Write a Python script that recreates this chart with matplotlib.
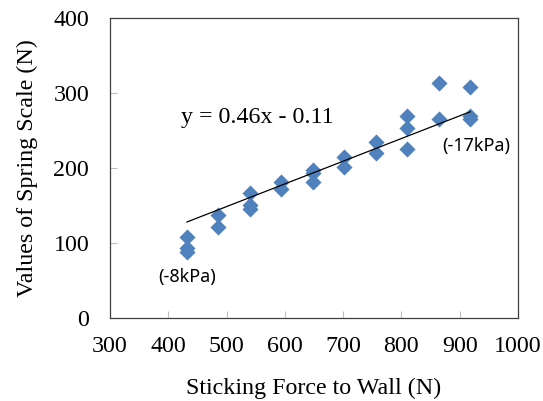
import numpy as np
import matplotlib
matplotlib.use("Agg")
import matplotlib.pyplot as plt

# Sticking force to wall (N) and spring scale readings (N)
force = [432, 432, 432,
         486, 486,
         540, 540, 540,
         594, 594,
         648, 648, 648,
         702, 702,
         756, 756,
         810, 810, 810,
         864, 864,
         918, 918, 918]
spring = [108, 93, 88,
          137, 122,
          167, 151, 146,
          182, 172,
          197, 193, 181,
          215, 201,
          235, 220,
          270, 254, 226,
          313, 265,
          308, 270, 265]

# trend line as drawn in the reference
trend_x = [432, 918]
trend_y = [128, 275]

x_ticks = [300, 400, 500, 600, 700, 800, 900, 1000]
y_ticks = [0, 100, 200, 300, 400]
equation = "y = 0.46x - 0.11"
low_label = "(-8kPa)"
high_label = "(-17kPa)"

serif = ["Liberation Serif", "DejaVu Serif"]
sans = ["Noto Sans", "DejaVu Sans"]
fs = 17.3

fig = plt.figure(figsize=(5.43, 4.01), dpi=100)
ax = fig.add_axes([110/543, 83/401, 408/543, 300/401])

ax.scatter(force, spring, marker="D", s=8.2**2, color="#4F81BD", linewidths=0, zorder=3)
ax.plot(trend_x, trend_y, color="black", lw=0.9, zorder=4)

ax.set_xlim(300, 1000)
ax.set_ylim(0, 400)
ax.set_xticks(x_ticks)
ax.set_yticks(y_ticks)
ax.tick_params(axis="both", direction="in", length=5, width=0.8, color="#BFBFBF",
               labelsize=fs, labelcolor="black")
ax.tick_params(axis="x", pad=13)
ax.tick_params(axis="y", pad=15)
for lab in ax.get_xticklabels() + ax.get_yticklabels():
    lab.set_family(serif)
for sp in ax.spines.values():
    sp.set_color("#404040")
    sp.set_linewidth(0.9)

ax.set_xlabel("Sticking Force to Wall (N)", family=serif, fontsize=fs, labelpad=15)
ax.set_ylabel("Values of Spring Scale (N)", family=serif, fontsize=fs, labelpad=11)

ax.text(0.174, 0.67, equation, transform=ax.transAxes, family=serif, fontsize=fs,
        ha="left", va="center")
ax.text(432, 55, low_label, family=sans, fontsize=13, ha="center", va="center")
ax.text(928, 229, high_label, family=sans, fontsize=13, ha="center", va="center")

fig.savefig("out.png", dpi=100)
